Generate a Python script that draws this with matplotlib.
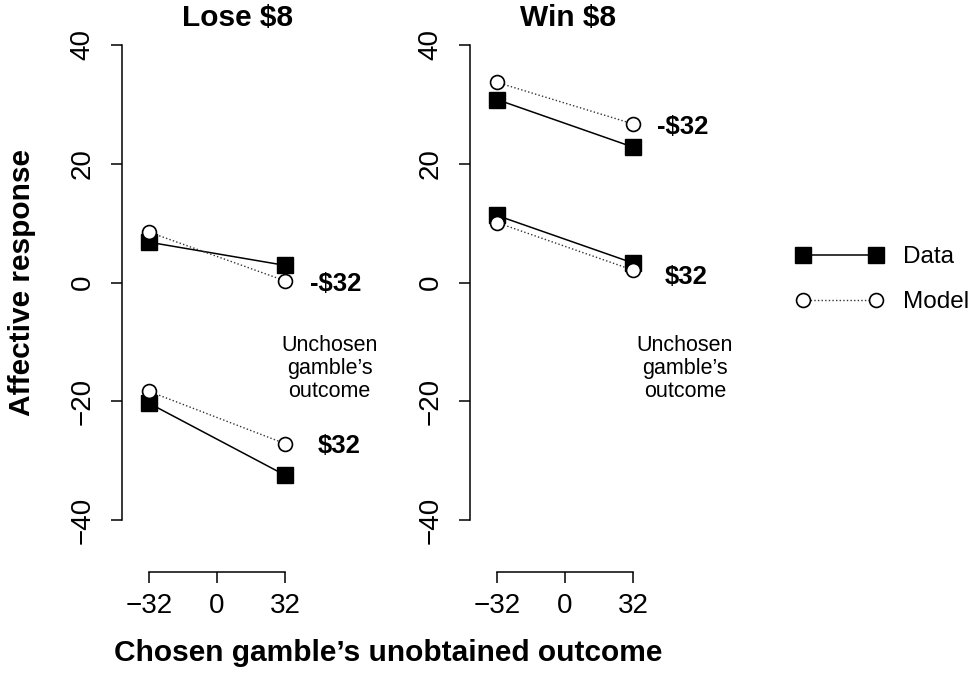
import numpy as np
import matplotlib.pyplot as plt

plt.rcParams['font.family'] = ['Liberation Sans', 'DejaVu Sans']

# chosen gamble's unobtained outcome
x = [-32, 32]

# Lose $8 panel, one pair of series per unchosen gamble's outcome
lose_neg32_data = [6.8, 2.9]
lose_neg32_model = [8.5, 0.3]
lose_pos32_data = [-20.3, -32.4]
lose_pos32_model = [-18.3, -27.1]

# Win $8 panel
win_neg32_data = [30.8, 22.8]
win_neg32_model = [33.7, 26.7]
win_pos32_data = [11.3, 3.3]
win_pos32_model = [10.1, 2.1]

titles = ['Lose $8', 'Win $8']
series_labels = ['-$32', '$32']
yticks = [-40, -20, 0, 20, 40]
xticks = [-32, 0, 32]

W, H = 975, 674
fig = plt.figure(figsize=(W / 100, H / 100), dpi=100)


def px_axes(left, top, width, height):
    return fig.add_axes([left / W, 1 - (top + height) / H, width / W, height / H])


def draw_panel(ax, data_sets, label_pos, note_pos):
    lines = []
    for d, m in data_sets:
        l1, = ax.plot(x, d, color='black', lw=1.1, marker='s', ms=11,
                      mfc='black', mec='black', label='Data')
        l2, = ax.plot(x, m, color='#333333', lw=1.0, ls=(0, (1, 1.6)), marker='o',
                      ms=10, mfc='white', mec='black', mew=1.2, label='Model')
        lines = [l1, l2]
    for (tx, ty), s in zip(label_pos, series_labels):
        ax.text(tx, ty, s, fontsize=18.5, fontweight='bold', ha='left', va='center',
                clip_on=False, parse_math=False)
    ax.text(note_pos[0], note_pos[1], "Unchosen\ngamble\u2019s\noutcome", fontsize=15.5,
            ha='center', va='center', linespacing=1.12, clip_on=False)
    ax.set_xlim(-44.7, 80)
    ax.set_ylim(-48.7, 42)
    for s in ['top', 'right']:
        ax.spines[s].set_visible(False)
    ax.spines['left'].set_bounds(-40, 40)
    ax.spines['bottom'].set_bounds(-32, 32)
    for s in ['left', 'bottom']:
        ax.spines[s].set_linewidth(1.1)
    ax.set_xticks(xticks)
    ax.set_yticks(yticks)
    ax.tick_params(axis='both', labelsize=20, length=8, width=1.1)
    ax.tick_params(axis='y', pad=11)
    ax.tick_params(axis='x', pad=7)
    plt.setp(ax.get_yticklabels(), rotation=90, va='center')
    ax.patch.set_visible(False)
    return lines


ax1 = px_axes(122, 33, 265, 539)
handles = draw_panel(ax1, [(lose_neg32_data, lose_neg32_model),
                           (lose_pos32_data, lose_pos32_model)],
                     [(44, -0.3), (47.5, -27.5)], (53, -14.4))

ax2 = px_axes(470, 33, 265, 539)
draw_panel(ax2, [(win_neg32_data, win_neg32_model),
                 (win_pos32_data, win_pos32_model)],
           [(43.3, 26.2), (47, 0.9)], (56.5, -14.4))

fig.text(238 / W, 1 - 18 / H, titles[0], fontsize=21.5, fontweight='bold',
         ha='center', va='center', parse_math=False)
fig.text(568 / W, 1 - 18 / H, titles[1], fontsize=21.5, fontweight='bold',
         ha='center', va='center', parse_math=False)
fig.text(22 / W, 1 - 283 / H, 'Affective response', fontsize=21.5, fontweight='bold',
         rotation=90, ha='center', va='center')
fig.text(388 / W, 1 - 653 / H, 'Chosen gamble\u2019s unobtained outcome', fontsize=21.5,
         fontweight='bold', ha='center', va='center')

fig.legend(handles, ['Data', 'Model'], loc='upper left',
           bbox_to_anchor=(796 / W, 1 - 246 / H), frameon=False, fontsize=17.5,
           numpoints=2, handlelength=3.6, handletextpad=0.8, labelspacing=0.96,
           borderpad=0, borderaxespad=0)

fig.savefig('out.png', dpi=100)
